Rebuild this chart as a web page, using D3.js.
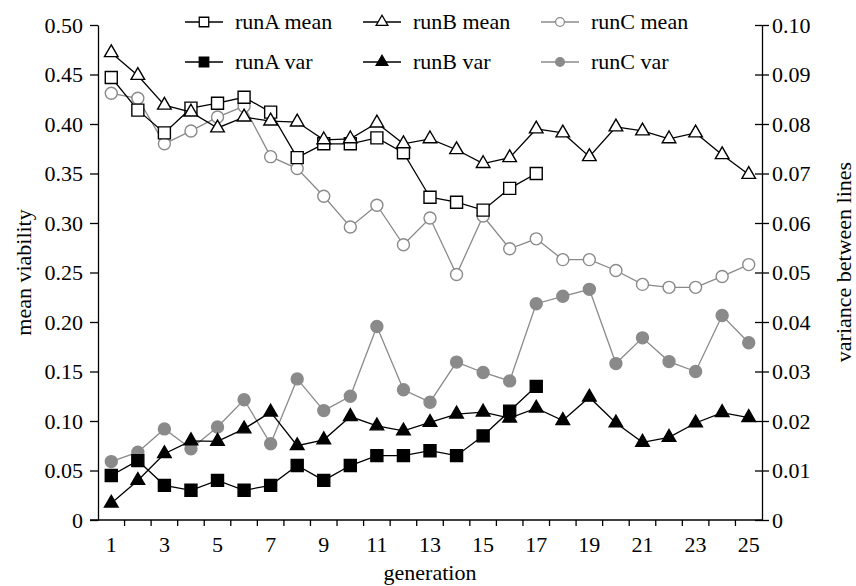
<html>
<head>
<script src="https://d3js.org/d3.v7.min.js"></script>
<style type="text/css">
    body { margin: 0; background: #fff; }
    .axis path, .axis line { stroke: #000; stroke-width: 1.3; }
</style>
</head>
<body>
<svg id="chart" width="856" height="586" xmlns="http://www.w3.org/2000/svg"></svg>
<script type="text/javascript">

// generations 1..25
const generations = d3.range(1, 26);
const xTickLabels = [1, 3, 5, 7, 9, 11, 13, 15, 17, 19, 21, 23, 25];
const meanTicks = [0, 0.05, 0.10, 0.15, 0.20, 0.25, 0.30, 0.35, 0.40, 0.45, 0.50];
const varTicks = [0, 0.01, 0.02, 0.03, 0.04, 0.05, 0.06, 0.07, 0.08, 0.09, 0.10];

// mean viability (left axis)
const runAMean = [0.447, 0.414, 0.391, 0.416, 0.421, 0.427, 0.412, 0.366, 0.380, 0.380, 0.386, 0.371, 0.326, 0.321, 0.313, 0.335, 0.350];
const runBMean = [0.472, 0.449, 0.419, 0.412, 0.396, 0.407, 0.403, 0.402, 0.384, 0.385, 0.401, 0.380, 0.385, 0.374, 0.360, 0.366, 0.395, 0.391, 0.367, 0.397, 0.393, 0.385, 0.391, 0.369, 0.349];
const runCMean = [0.431, 0.426, 0.380, 0.393, 0.407, 0.418, 0.367, 0.355, 0.327, 0.296, 0.318, 0.278, 0.305, 0.248, 0.307, 0.274, 0.284, 0.263, 0.263, 0.252, 0.238, 0.235, 0.235, 0.246, 0.258];

// variance between lines (right axis)
const runAVar = [0.009, 0.012, 0.007, 0.006, 0.008, 0.006, 0.007, 0.011, 0.008, 0.011, 0.013, 0.013, 0.014, 0.013, 0.017, 0.022, 0.027];
const runBVar = [0.0034, 0.0080, 0.0134, 0.0160, 0.0159, 0.0184, 0.0218, 0.0150, 0.0162, 0.0209, 0.0190, 0.0180, 0.0197, 0.0214, 0.0218, 0.0206, 0.0226, 0.0201, 0.0248, 0.0196, 0.0157, 0.0167, 0.0196, 0.0217, 0.0207];
const runCVar = [0.0118, 0.0137, 0.0184, 0.0144, 0.0188, 0.0243, 0.0154, 0.0285, 0.0221, 0.0250, 0.0391, 0.0263, 0.0238, 0.0319, 0.0298, 0.0281, 0.0437, 0.0452, 0.0466, 0.0316, 0.0368, 0.0320, 0.0300, 0.0413, 0.0358];

const GREY = "#8a8a8a";
const FONT = '"Liberation Serif"';
const FSIZE = "22px";

const series = [
    { name: "runA mean", values: runAMean, axis: "mean", shape: d3.symbolSquare, color: "#000", fill: "#fff" },
    { name: "runB mean", values: runBMean, axis: "mean", shape: d3.symbolTriangle, color: "#000", fill: "#fff" },
    { name: "runC mean", values: runCMean, axis: "mean", shape: d3.symbolCircle, color: GREY, fill: "#fff" },
    { name: "runA var", values: runAVar, axis: "var", shape: d3.symbolSquare, color: "#000", fill: "#000" },
    { name: "runB var", values: runBVar, axis: "var", shape: d3.symbolTriangle, color: "#000", fill: "#000" },
    { name: "runC var", values: runCVar, axis: "var", shape: d3.symbolCircle, color: GREY, fill: GREY }
];

const plotLeft = 98, plotRight = 762, plotTop = 25, plotBottom = 520;

const svg = d3.select("#chart");

const x = d3.scaleBand().domain(generations).range([plotLeft, plotRight]).padding(0);
const yMean = d3.scaleLinear().domain([0, 0.5]).range([plotBottom, plotTop]);
const yVar = d3.scaleLinear().domain([0, 0.1]).range([plotBottom, plotTop]);

// symbol sizes (area) for plot and legend
function symSize(shape, legend) {
    if (shape === d3.symbolSquare) return legend ? 90 : 144;
    if (shape === d3.symbolTriangle) return legend ? 60 : 80;
    return legend ? 60 : 113;
}

function serif(sel) {
    sel.style("font-family", FONT).style("font-size", FSIZE).style("fill", "#000");
}

// x axis: labels at band centres for odd generations, ticks on band edges
const xAxis = svg.append("g")
    .attr("class", "axis")
    .attr("transform", `translate(0,${plotBottom})`)
    .call(d3.axisBottom(x).tickValues(xTickLabels).tickSize(0).tickPadding(16));
xAxis.selectAll("text").call(serif);
xAxis.select(".domain").remove();
xAxis.append("line")
    .attr("x1", plotLeft - 8).attr("x2", plotRight)
    .attr("y1", 0).attr("y2", 0);
xAxis.selectAll("line.edge")
    .data(generations.slice(1))
    .join("line")
    .attr("class", "edge")
    .attr("x1", d => x(d)).attr("x2", d => x(d))
    .attr("y1", 0).attr("y2", 6);

// left axis
const yLeft = svg.append("g")
    .attr("class", "axis")
    .attr("transform", `translate(${plotLeft},0)`)
    .call(d3.axisLeft(yMean).tickValues(meanTicks).tickSizeOuter(0).tickSizeInner(8).tickPadding(7)
        .tickFormat(d => d === 0 ? "0" : d3.format(".2f")(d)));
yLeft.selectAll("text").call(serif);

// right axis, ticks crossing the line
const yRight = svg.append("g")
    .attr("class", "axis")
    .attr("transform", `translate(${plotRight},0)`)
    .call(d3.axisRight(yVar).tickValues(varTicks).tickSizeOuter(0).tickSizeInner(7).tickPadding(3)
        .tickFormat(d => d === 0 ? "0" : d3.format(".2f")(d)));
yRight.selectAll("text").call(serif);
yRight.selectAll(".tick line").attr("x1", -7);

// axis titles
svg.append("text")
    .attr("transform", `translate(31,${(plotTop + plotBottom) / 2}) rotate(-90)`)
    .attr("text-anchor", "middle")
    .call(serif)
    .text("mean viability");

svg.append("text")
    .attr("transform", "translate(851,262) rotate(-90)")
    .attr("text-anchor", "middle")
    .call(serif)
    .text("variance between lines");

svg.append("text")
    .attr("x", 430).attr("y", 580)
    .attr("text-anchor", "middle")
    .call(serif)
    .text("generation");

// draw grey series first so black ones sit on top
const drawOrder = [series[2], series[5], series[0], series[3], series[1], series[4]];

drawOrder.forEach(s => {
    const y = s.axis === "mean" ? yMean : yVar;
    const pts = s.values.map((v, i) => ({ g: generations[i], v: v }));
    const cx = d => x(d.g) + x.bandwidth() / 2;

    const g = svg.append("g");
    g.append("path")
        .datum(pts)
        .attr("fill", "none")
        .attr("stroke", s.color)
        .attr("stroke-width", 1.3)
        .attr("d", d3.line().x(cx).y(d => y(d.v)));

    g.selectAll("path.mark")
        .data(pts)
        .join("path")
        .attr("class", "mark")
        .attr("transform", d => `translate(${cx(d)},${y(d.v)})`)
        .attr("d", d3.symbol().type(s.shape).size(symSize(s.shape, false)))
        .attr("fill", s.fill)
        .attr("stroke", s.color)
        .attr("stroke-width", 1.4);
});

// legend: 3 columns x 2 rows
const legend = svg.append("g");
const colX = [185, 363, 541];
const rowY = [22, 62];
series.forEach((s, i) => {
    const lx = colX[i % 3], ly = rowY[Math.floor(i / 3)];
    const item = legend.append("g").attr("transform", `translate(${lx},${ly})`);
    item.append("line")
        .attr("x1", 0).attr("x2", 38)
        .attr("y1", 0).attr("y2", 0)
        .attr("stroke", s.color)
        .attr("stroke-width", 1.3);
    item.append("path")
        .attr("transform", "translate(19,0)")
        .attr("d", d3.symbol().type(s.shape).size(symSize(s.shape, true)))
        .attr("fill", s.fill)
        .attr("stroke", s.color)
        .attr("stroke-width", 1.3);
    item.append("text")
        .attr("x", 50).attr("y", 7)
        .call(serif)
        .text(s.name);
});

</script>
</body>
</html>
